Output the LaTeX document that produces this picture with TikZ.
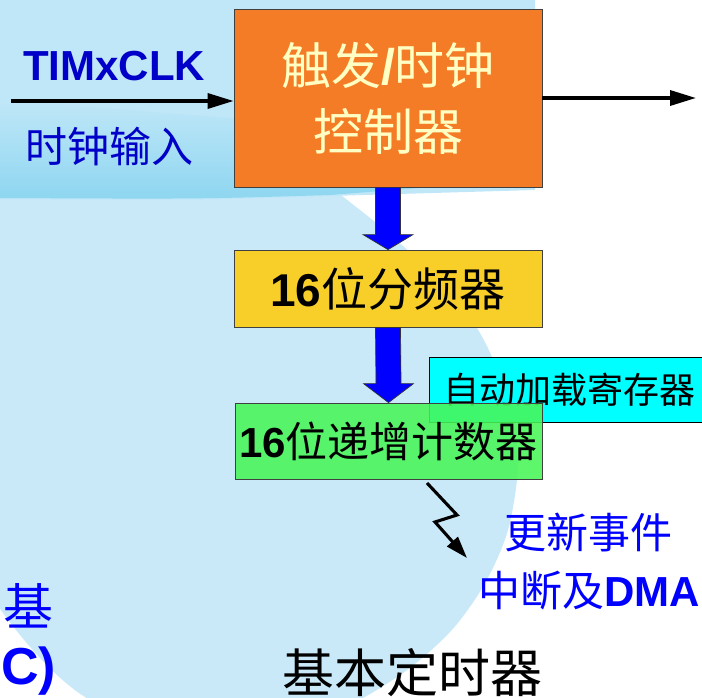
\documentclass[tikz,border=0pt]{standalone}
\usepackage{fontspec}
\setmainfont{Liberation Sans}
\newfontfamily\cjk{Noto Sans CJK SC}
\usepackage{tikz}
\usetikzlibrary{positioning, arrows.meta, calc}

\definecolor{blobblue}{RGB}{201,233,248}
\definecolor{bandblue}{RGB}{192,231,248}
\definecolor{wavecyan}{RGB}{142,214,240}
\definecolor{ctrlorange}{RGB}{245,124,38}
\definecolor{pscyellow}{RGB}{247,207,40}
\definecolor{cntgreen}{RGB}{72,246,88}
\definecolor{arrcyan}{RGB}{0,255,255}
\definecolor{paleyellow}{RGB}{255,255,196}
\definecolor{clkblue}{RGB}{0,0,200}

\newcommand\pxsize[1]{\fontsize{#1}{#1}\selectfont}
% fat blue arrow from the bottom of #1 to the top of #2
\newcommand\fatarrow[3]{%
  \draw[fat] ($(#1.south)+(-12.5,0)$) -- ($(#2.north)+(-12.5,-#3)$)
    -- ($(#2.north)+(-25,-#3)$) -- (#2.north) -- ($(#2.north)+(25,-#3)$)
    -- ($(#2.north)+(12.5,-#3)$) -- ($(#1.south)+(12.5,0)$) -- cycle;}

\begin{document}
\begin{tikzpicture}[x=1pt, y=-1pt,
    block/.style={rectangle, draw=black!75, line width=0.8pt, inner sep=0pt},
    fat/.style={draw=black!80, line width=0.7pt, fill=blue},
    arrow/.style={-{Triangle[length=26pt, width=15pt]}, line width=3.4pt},
    bolt/.style={-{Triangle[length=22pt, width=14pt]}, line width=3.1pt},
    note/.style={inner sep=0pt, text=blue}
]
    \useasboundingbox (0,0) rectangle (702,698);
    \clip (0,0) rectangle (702,698);

    % Background
    \fill[blobblue] plot[smooth cycle] coordinates {(300,170) (360,210) (420,262)
        (475,325) (505,390) (518,460) (508,530) (484,585) (450,632) (400,675)
        (330,712) (200,735) (90,700) (20,635) (-40,540) (-70,400) (-70,250)
        (-50,160) (100,150) (200,150)};
    \fill[bandblue] (0,0) -- (535,0) -- (535,190) -- (330,196)
        .. controls (200,200) .. (0,199) -- cycle;
    \shade[top color=bandblue, bottom color=wavecyan] (0,104)
        .. controls (120,100) and (250,135) .. (420,112) -- (420,188)
        -- (330,195) .. controls (200,199) .. (0,198) -- cycle;

    % Trigger / clock controller
    \node[block, fill=ctrlorange, minimum width=308pt, minimum height=178pt,
          text=paleyellow, align=center, font=\fontsize{50}{66}\selectfont]
          (ctrl) at (388,98) {{\cjk 触发}{\bfseries /}{\cjk 时钟}\\{\cjk 控制器}};

    % Prescaler
    \node[block, fill=pscyellow, minimum width=308pt, minimum height=77pt,
          font=\pxsize{46}] (psc) at (388,288.5) {{\bfseries 16}{\cjk 位分频器}};

    % Auto-reload register
    \node[block, fill=arrcyan, draw=black, anchor=west, minimum height=65pt,
          inner xsep=14pt, font=\pxsize{36}\cjk] (arr) at (429,389.5) {自动加载寄存器};

    % Counter
    \node[block, fill=cntgreen, fill opacity=0.88, text opacity=1,
          minimum width=307pt, minimum height=76pt, font=\pxsize{42}]
          (cnt) at (388.5,441) {{\bfseries 16}{\cjk 位递增计数器}};

    % Clock input
    \node[note, text=clkblue, font=\pxsize{42}\bfseries] (clkname) at (114,66) {TIMxCLK};
    \node[note, text=clkblue, font=\pxsize{42}\cjk] (clkdesc) at (109.5,146) {时钟输入};
    \coordinate (clkin) at (11,101);
    \coordinate (trgo) at (696,98);

    % Arrows
    \draw[arrow] (clkin) -- (clkin -| ctrl.west);
    \draw[arrow] (ctrl.east) -- (trgo);
    \fatarrow{ctrl}{psc}{15}
    \fatarrow{psc}{cnt}{19}

    % Update event
    \coordinate (b0) at (427,483);
    \coordinate (b1) at (457,515);
    \coordinate (b2) at (435,522);
    \coordinate (b3) at (467,558);
    \draw[bolt] (b0) -- (b1) -- (b2) -- (b3);
    \node[note, font=\pxsize{42}\cjk] (evt) at (588.5,532.5) {更新事件};
    \node[note, font=\pxsize{42}] (irq) at (589,590.5) {{\cjk 中断及}{\bfseries DMA}};

    % Text at the left edge
    \node[note, font=\pxsize{50}\cjk] (frag1) at (28,606) {基};
    \node[note, font=\pxsize{52}\bfseries, anchor=west] (frag2) at (1,671) {C)};

    % Title
    \node[inner sep=0pt, font=\pxsize{52}\cjk] (title) at (412,673) {基本定时器};

\end{tikzpicture}
\end{document}
